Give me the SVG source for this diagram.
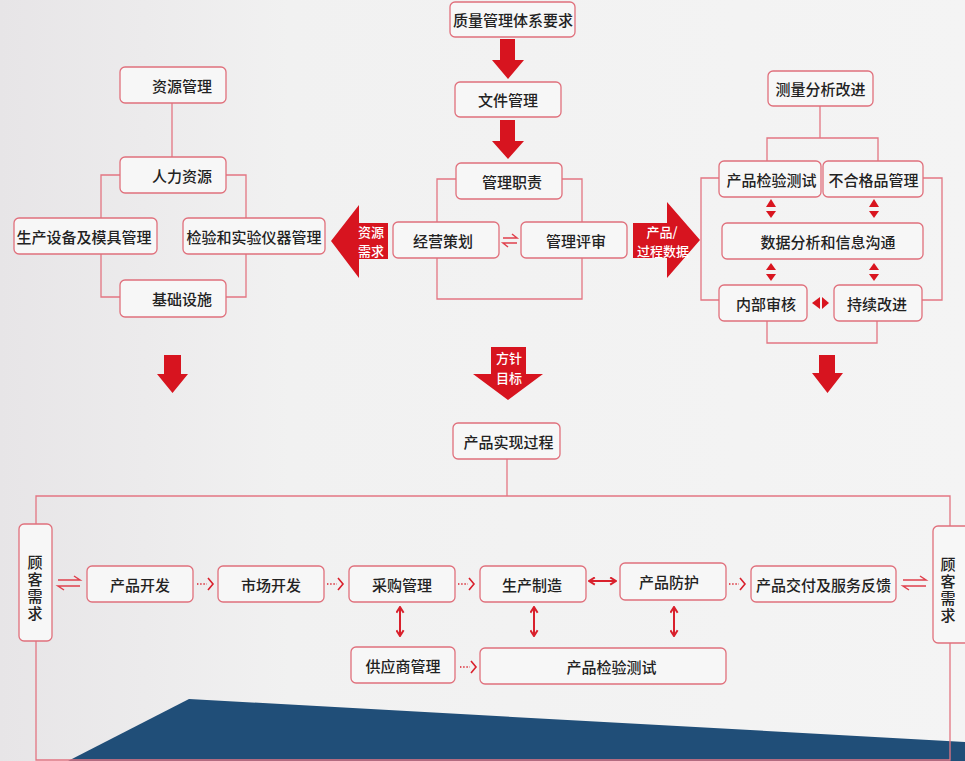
<svg xmlns="http://www.w3.org/2000/svg" width="965" height="761" viewBox="0 0 965 761">
<defs>
<linearGradient id="bg" x1="0" y1="0" x2="1" y2="0">
<stop offset="0" stop-color="#e7e5e7"/>
<stop offset="0.3" stop-color="#f1f1f1"/>
<stop offset="1" stop-color="#f4f4f4"/>
</linearGradient>
<marker id="ah" viewBox="0 0 10 10" refX="8.5" refY="5" markerWidth="9" markerHeight="9" orient="auto-start-reverse" markerUnits="userSpaceOnUse">
<path d="M2,1 L8.5,5 L2,9" fill="none" stroke="#d9202c" stroke-width="2.2"/>
</marker>
<style>
.bx{fill:#f7f7f7;stroke:#e0707c;stroke-width:1.3}
.t{font-family:"Noto Sans CJK SC","Noto Sans",sans-serif;font-size:15px;font-weight:500;fill:#222;text-anchor:middle;dominant-baseline:central}
.v{font-family:"Noto Sans CJK SC","Noto Sans",sans-serif;font-size:15px;font-weight:500;fill:#222;text-anchor:middle;writing-mode:vertical-rl;letter-spacing:2px}
.w{font-family:"Noto Sans CJK SC","Noto Sans",sans-serif;font-size:13px;font-weight:500;fill:#fff;text-anchor:middle;dominant-baseline:central}
.ln{fill:none;stroke:#e37682;stroke-width:1.3}
.big{fill:#d7141f}
.tri{fill:#d9151f}
.dot{fill:none;stroke:#d9202c;stroke-width:1.4;stroke-dasharray:1.4 1.8}
.chev{fill:none;stroke:#d9202c;stroke-width:1.6}
.dbl{fill:none;stroke:#d9202c;stroke-width:2}
.hp{fill:none;stroke:#e0404c;stroke-width:1.5}
</style>
</defs>
<rect width="965" height="761" fill="url(#bg)"/>
<polygon points="189,699 965,742 965,761 68,761" fill="#204e78"/>

<g id="connectors">
<path class="ln" d="M172,103 V157"/>
<path class="ln" d="M120,175 H101 V218"/>
<path class="ln" d="M226,175 H246 V218"/>
<path class="ln" d="M101,254 V297 H120"/>
<path class="ln" d="M246,254 V297 H226"/>
<path class="ln" d="M456,179 H437 V299 H582 V179 H562"/>
<path class="ln" d="M820,106 V138"/>
<path class="ln" d="M767,161 V138 H878 V161"/>
<path class="ln" d="M719,178 H701 V300 H719"/>
<path class="ln" d="M923,178 H942 V300 H922"/>
<path class="ln" d="M767,321 V343 H877 V321"/>
<path class="ln" d="M507,459 V496"/>
<path class="ln" d="M36,524 V496 H950 V526"/>
<path class="ln" d="M36,641 V760 H950 V643"/>

<path class="big" d="M500,39 H515 V60 H524 L508,79 L492,60 H500 Z"/>
<path class="big" d="M500,120 H515 V141 H524 L508,159 L492,141 H500 Z"/>
<path class="big" d="M164,355 H181 V374 H188 L172.5,393 L157,374 H164 Z"/>
<path class="big" d="M819,355 H835 V373 H843 L827.5,393 L812,373 H819 Z"/>
<path class="big" d="M491,347 H526 V374 H543 L508,400 L473,374 H491 Z"/>
<path class="big" d="M388,223 V259 H359 V278 L331,241 L359,205 V223 Z"/>
<path class="big" d="M633,223 H667 V202 L700,240 L667,278 V258 H633 Z"/>
<text class="w" x="371" y="231">资源<tspan x="371" dy="19">需求</tspan></text>
<text class="w" x="662" y="231">产品/<tspan x="663" dy="19">过程数据</tspan></text>
<text class="w" x="509" y="357">方针<tspan x="509" dy="20">目标</tspan></text>

<polygon class="tri" points="766,207 776,207 771,199"/>
<polygon class="tri" points="766,211 776,211 771,218"/>
<polygon class="tri" points="869,207 879,207 874,199"/>
<polygon class="tri" points="869,211 879,211 874,218"/>
<polygon class="tri" points="766,270 776,270 771,263"/>
<polygon class="tri" points="766,274 776,274 771,281"/>
<polygon class="tri" points="869,270 879,270 874,263"/>
<polygon class="tri" points="869,274 879,274 874,281"/>
<polygon class="tri" points="812,303 820,297 820,309"/>
<polygon class="tri" points="822,297 822,309 829,303"/>

<path class="hp" d="M503,238 H517 L512,234"/>
<path class="hp" d="M517,243 H503 L508,247"/>
<path class="hp" d="M58,580 H80 L74,576"/>
<path class="hp" d="M80,586 H58 L64,590"/>
<path class="hp" d="M903,580 H926 L920,576"/>
<path class="hp" d="M926,586 H903 L909,590"/>

<path class="dot" d="M197,584 H207"/><path class="chev" d="M208,578 L213,584 L208,590"/>
<path class="dot" d="M327,584 H337"/><path class="chev" d="M338,578 L343,584 L338,590"/>
<path class="dot" d="M458,584 H468"/><path class="chev" d="M469,578 L474,584 L469,590"/>
<path class="dot" d="M729,584 H739"/><path class="chev" d="M740,578 L745,584 L740,590"/>
<path class="dot" d="M460,667 H470"/><path class="chev" d="M471,661 L476,667 L471,673"/>

<path class="dbl" d="M589,581 H616" marker-start="url(#ah)" marker-end="url(#ah)"/>
<path class="dbl" d="M400,607 V636" marker-start="url(#ah)" marker-end="url(#ah)"/>
<path class="dbl" d="M534,607 V636" marker-start="url(#ah)" marker-end="url(#ah)"/>
<path class="dbl" d="M674,607 V636" marker-start="url(#ah)" marker-end="url(#ah)"/>
</g>

<g id="n-qms"><rect class="bx" x="450" y="2" width="125" height="35" rx="5"/><text class="t" x="513" y="19.5">质量管理体系要求</text></g>
<g id="n-doc"><rect class="bx" x="455" y="82" width="106" height="35" rx="5"/><text class="t" x="508" y="99.5">文件管理</text></g>
<g id="n-resp"><rect class="bx" x="456" y="163" width="106" height="36" rx="5"/><text class="t" x="512" y="181">管理职责</text></g>
<g id="n-plan"><rect class="bx" x="393" y="222" width="106" height="36" rx="5"/><text class="t" x="443" y="240">经营策划</text></g>
<g id="n-review"><rect class="bx" x="521" y="222" width="106" height="36" rx="5"/><text class="t" x="576" y="240">管理评审</text></g>

<g id="n-resmgmt"><rect class="bx" x="120" y="67" width="106" height="36" rx="5"/><text class="t" x="182" y="85">资源管理</text></g>
<g id="n-hr"><rect class="bx" x="120" y="157" width="106" height="36" rx="5"/><text class="t" x="182" y="175">人力资源</text></g>
<g id="n-equip"><rect class="bx" x="14" y="218" width="143" height="36" rx="5"/><text class="t" x="84" y="236">生产设备及模具管理</text></g>
<g id="n-instr"><rect class="bx" x="183" y="218" width="142" height="36" rx="5"/><text class="t" x="254" y="236">检验和实验仪器管理</text></g>
<g id="n-infra"><rect class="bx" x="120" y="280" width="106" height="37" rx="5"/><text class="t" x="182" y="298.5">基础设施</text></g>

<g id="n-measure"><rect class="bx" x="768" y="71" width="105" height="35" rx="5"/><text class="t" x="820.5" y="88.5">测量分析改进</text></g>
<g id="n-inspect1"><rect class="bx" x="719" y="161" width="102" height="36" rx="5"/><text class="t" x="771.5" y="179">产品检验测试</text></g>
<g id="n-nonconf"><rect class="bx" x="823" y="161" width="100" height="36" rx="5"/><text class="t" x="873.5" y="179">不合格品管理</text></g>
<g id="n-data"><rect class="bx" x="722" y="223" width="201" height="36" rx="5"/><text class="t" x="828" y="241">数据分析和信息沟通</text></g>
<g id="n-audit"><rect class="bx" x="719" y="285" width="88" height="36" rx="5"/><text class="t" x="766" y="303">内部审核</text></g>
<g id="n-improve"><rect class="bx" x="834" y="285" width="88" height="36" rx="5"/><text class="t" x="877" y="303">持续改进</text></g>

<g id="n-realize"><rect class="bx" x="453" y="423" width="107" height="36" rx="5"/><text class="t" x="508.5" y="441">产品实现过程</text></g>

<g id="n-cust-l"><rect class="bx" x="19" y="524" width="33" height="117" rx="5"/><text class="v" x="35" y="589">顾客需求</text></g>
<g id="n-dev"><rect class="bx" x="87" y="566" width="106" height="36" rx="5"/><text class="t" x="140" y="584">产品开发</text></g>
<g id="n-market"><rect class="bx" x="218" y="566" width="106" height="36" rx="5"/><text class="t" x="271" y="584">市场开发</text></g>
<g id="n-purchase"><rect class="bx" x="349" y="566" width="106" height="36" rx="5"/><text class="t" x="402" y="584">采购管理</text></g>
<g id="n-supplier"><rect class="bx" x="351" y="647" width="104" height="36" rx="5"/><text class="t" x="403" y="665">供应商管理</text></g>
<g id="n-produce"><rect class="bx" x="480" y="566" width="106" height="36" rx="5"/><text class="t" x="532" y="584">生产制造</text></g>
<g id="n-protect"><rect class="bx" x="620" y="563" width="106" height="37" rx="5"/><text class="t" x="669" y="581.5">产品防护</text></g>
<g id="n-deliver"><rect class="bx" x="751" y="566" width="145" height="36" rx="5"/><text class="t" x="823.5" y="584">产品交付及服务反馈</text></g>
<g id="n-inspect2"><rect class="bx" x="480" y="648" width="246" height="36" rx="5"/><text class="t" x="611.5" y="666">产品检验测试</text></g>
<g id="n-cust-r"><rect class="bx" x="933" y="526" width="40" height="117" rx="5"/><text class="v" x="948" y="591">顾客需求</text></g>
</svg>
